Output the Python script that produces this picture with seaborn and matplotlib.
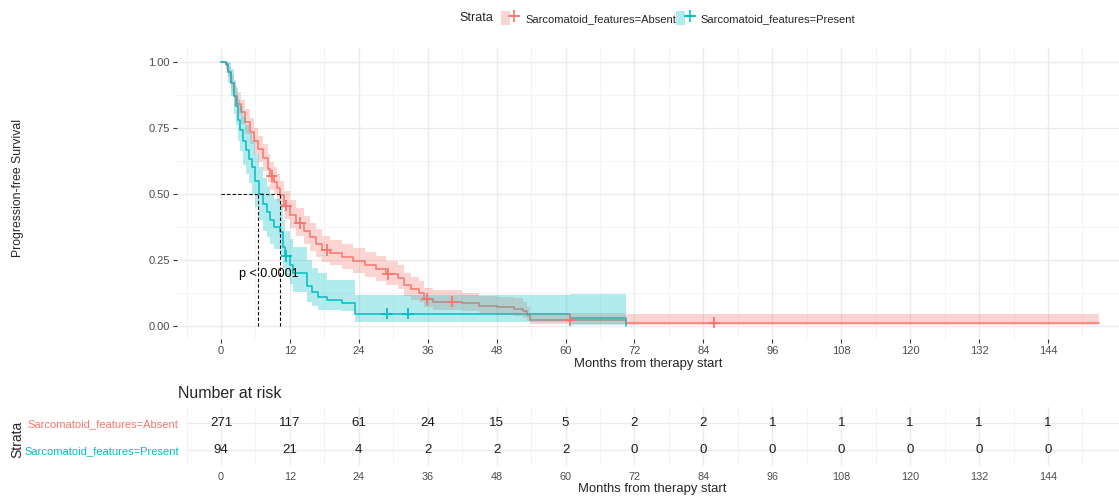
import numpy as np
import pandas as pd
import matplotlib
matplotlib.use("Agg")
import matplotlib.pyplot as plt
import seaborn as sns
from matplotlib.patches import Patch
from matplotlib.lines import Line2D
from matplotlib.legend_handler import HandlerTuple

# --- data ---
groups = ["Sarcomatoid_features=Absent", "Sarcomatoid_features=Present"]
colors = ["#F8766D", "#00BFC4"]

# Absent: step times (months), survival, lower / upper CI
abs_t = [0, 0.8, 1.3, 1.8, 2.2, 2.8, 3.5, 4.2, 5.0, 5.8, 6.5, 7.3, 8.2, 8.6, 9.3, 9.8, 10.3,
         11.0, 12.0, 13.0, 14.5, 15.5, 16.5, 17.5, 19.0, 21.0, 23.0, 25.0, 27.0, 28.8, 30.8,
         31.8, 33.0, 34.5, 35.3, 37.0, 42.0, 45.0, 48.0, 51.0, 52.5, 53.3, 53.8, 70.6, 152.8]
abs_s = [1.0, 0.985, 0.96, 0.92, 0.87, 0.84, 0.81, 0.77, 0.735, 0.70, 0.67, 0.635, 0.595, 0.566,
         0.545, 0.52, 0.497, 0.455, 0.42, 0.39, 0.36, 0.335, 0.31, 0.287, 0.275, 0.26, 0.245,
         0.23, 0.215, 0.197, 0.18, 0.155, 0.14, 0.125, 0.102, 0.092, 0.085, 0.075, 0.07, 0.065,
         0.055, 0.04, 0.023, 0.0125, 0.0125]
abs_lo = [1.0, 0.97, 0.94, 0.89, 0.83, 0.80, 0.765, 0.725, 0.69, 0.65, 0.62, 0.585, 0.545, 0.515,
          0.495, 0.47, 0.445, 0.405, 0.37, 0.34, 0.31, 0.285, 0.26, 0.243, 0.23, 0.215, 0.20,
          0.185, 0.17, 0.155, 0.14, 0.115, 0.10, 0.09, 0.07, 0.062, 0.055, 0.045, 0.04, 0.038,
          0.03, 0.018, 0.008, 0.003, 0.003]
abs_hi = [1.0, 1.0, 0.98, 0.95, 0.91, 0.885, 0.855, 0.82, 0.785, 0.75, 0.72, 0.69, 0.65, 0.62,
          0.60, 0.575, 0.55, 0.51, 0.475, 0.445, 0.415, 0.39, 0.365, 0.34, 0.325, 0.31, 0.295,
          0.28, 0.265, 0.245, 0.23, 0.20, 0.185, 0.17, 0.145, 0.135, 0.125, 0.115, 0.11, 0.105,
          0.09, 0.07, 0.05, 0.044, 0.044]
abs_cens = [8.8, 11.4, 13.8, 18.4, 29.1, 35.8, 40.2, 60.8, 85.8]

# Present
pre_t = [0, 0.9, 1.3, 1.8, 2.2, 2.6, 2.9, 3.3, 3.8, 4.3, 4.9, 5.4, 6.0, 6.6, 7.3, 8.0, 8.5, 9.2,
         10.2, 10.8, 11.2, 12.0, 12.6, 14.9, 15.8, 16.9, 18.5, 21.0, 23.3, 60.8, 70.5]
pre_s = [1.0, 0.99, 0.96, 0.92, 0.87, 0.83, 0.78, 0.74, 0.70, 0.665, 0.63, 0.60, 0.55, 0.50, 0.46,
         0.43, 0.40, 0.375, 0.355, 0.30, 0.265, 0.23, 0.20, 0.15, 0.13, 0.11, 0.099, 0.087, 0.047,
         0.03, 0.0]
pre_lo = [1.0, 0.97, 0.92, 0.87, 0.80, 0.76, 0.70, 0.66, 0.61, 0.575, 0.54, 0.50, 0.45, 0.40, 0.36,
          0.335, 0.31, 0.29, 0.27, 0.22, 0.19, 0.16, 0.13, 0.09, 0.075, 0.062, 0.06, 0.058, 0.016,
          0.004, 0.0]
pre_hi = [1.0, 1.0, 1.0, 0.97, 0.93, 0.90, 0.86, 0.83, 0.79, 0.76, 0.73, 0.70, 0.65, 0.60, 0.56,
          0.53, 0.50, 0.48, 0.46, 0.40, 0.36, 0.33, 0.30, 0.25, 0.22, 0.20, 0.175, 0.172, 0.117,
          0.12, 0.0]
pre_cens = [11.4, 28.9, 32.6]

risk_times = [0, 12, 24, 36, 48, 60, 72, 84, 96, 108, 120, 132, 144]
risk_abs = [271, 117, 61, 24, 15, 5, 2, 2, 1, 1, 1, 1, 1]
risk_pre = [94, 21, 4, 2, 2, 2, 0, 0, 0, 0, 0, 0, 0]

medians = [10.3, 6.5]
pval_text = "p < 0.0001"

# --- build tables ---
curves = pd.concat([
    pd.DataFrame({"time": abs_t, "surv": abs_s, "lo": abs_lo, "hi": abs_hi, "strata": groups[0]}),
    pd.DataFrame({"time": pre_t, "surv": pre_s, "lo": pre_lo, "hi": pre_hi, "strata": groups[1]}),
], ignore_index=True)


def at_time(t, s, tc):
    idx = np.searchsorted(np.array(t), np.array(tc), side="right") - 1
    return np.array(s)[idx]


cens = pd.concat([
    pd.DataFrame({"time": abs_cens, "surv": at_time(abs_t, abs_s, abs_cens), "strata": groups[0]}),
    pd.DataFrame({"time": pre_cens, "surv": at_time(pre_t, pre_s, pre_cens), "strata": groups[1]}),
], ignore_index=True)

sns.set_theme(style="whitegrid", rc={"grid.color": "#EBEBEB", "grid.linewidth": 1.0})
plt.rcParams["font.family"] = ["Liberation Sans", "DejaVu Sans"]

W, H = 1119, 501
fig = plt.figure(figsize=(W / 100, H / 100), dpi=100)

px_per_month = 5.743
x_zero_px = 221


def month_at(px):
    return (px - x_zero_px) / px_per_month


def fbox(l, t, r, b):
    return [l / W, 1 - b / H, (r - l) / W, (b - t) / H]


ax = fig.add_axes(fbox(177, 48.3, W, 339.2))
pal = dict(zip(groups, colors))

sns.lineplot(data=curves, x="time", y="surv", hue="strata", palette=pal, estimator=None,
             sort=False, drawstyle="steps-post", lw=1.1, legend=False, ax=ax, zorder=2)
# ribbons go over the lines, as in the reference
for g in groups:
    d = curves[curves["strata"] == g]
    ax.fill_between(d["time"], d["lo"], d["hi"], step="post", color=pal[g], alpha=0.3, lw=0,
                    zorder=3)
sns.scatterplot(data=cens, x="time", y="surv", hue="strata", palette=pal, marker="+",
                s=70, linewidth=1.3, legend=False, ax=ax, zorder=5)

# median lines
ax.plot([0, max(medians)], [0.5, 0.5], ls=(0, (3, 2)), color="black", lw=0.8, zorder=6)
for m in medians:
    ax.plot([m, m], [0, 0.5], ls=(0, (3, 2)), color="black", lw=0.8, zorder=6)
ax.text(8.4, 0.197, pval_text, ha="center", va="center", fontsize=9, color="black", zorder=7)

ax.set_xlim(month_at(177), month_at(W))
ax.set_ylim(-0.05, 1.05)
ax.set_xticks(risk_times)
ax.set_xticks(np.arange(-6, 160, 12), minor=True)
ax.set_yticks([0, 0.25, 0.5, 0.75, 1.0])
ax.set_yticks([0.125, 0.375, 0.625, 0.875], minor=True)
ax.set_yticklabels(["0.00", "0.25", "0.50", "0.75", "1.00"])
ax.grid(which="minor", color="#F2F2F2", lw=0.6)
ax.grid(which="major", color="#EBEBEB", lw=1.0)
ax.tick_params(axis="both", which="major", labelsize=8, labelcolor="#4D4D4D", length=3,
               width=0.8, color="#333333", pad=2, bottom=True, left=True)
ax.tick_params(which="minor", length=0)
for sp in ax.spines.values():
    sp.set_visible(False)
ax.set_xlabel("Months from therapy start", fontsize=9.4, labelpad=1)
ax.set_ylabel("")
fig.text(18 / W, 1 - 188 / H, "Progression-free Survival", rotation=90, ha="center",
         va="center", fontsize=8.8)

# legend
fig.text(493 / W, 1 - 18 / H, "Strata", ha="right", va="center", fontsize=9)
handles = []
for c in colors:
    handles.append((Patch(facecolor=c, alpha=0.3, edgecolor="none"),
                    Line2D([], [], color=c, lw=1.1, marker="+", markersize=8, mew=1.2)))
fig.legend(handles=handles, labels=groups, ncol=2, loc="center left",
           bbox_to_anchor=(501 / W, 1 - 18 / H), frameon=False, fontsize=8,
           handler_map={tuple: HandlerTuple(ndivide=None, pad=0)}, handlelength=1.6,
           handleheight=1.6, columnspacing=0.0, handletextpad=0.6, borderpad=0,
           borderaxespad=0)

# risk table (its panel starts a little to the right of the main one)
ax2 = fig.add_axes(fbox(185.7, 406.7, W, 466))
rows = [1, 2]
for r, vals in zip(rows, [risk_abs, risk_pre]):
    for t, v in zip(risk_times, vals):
        ax2.text(t, r, str(v), ha="center", va="center", fontsize=9.5, color="#1A1A1A")
ax2.set_xlim(month_at(185.7), month_at(W))
ax2.set_ylim(2.6, 0.4)
ax2.set_xticks(risk_times)
ax2.set_xticks(np.arange(-6, 160, 12), minor=True)
ax2.set_yticks(rows)
ax2.set_yticklabels(groups)
ax2.grid(which="minor", axis="x", color="#F2F2F2", lw=0.6)
ax2.grid(which="major", color="#EBEBEB", lw=1.0)
ax2.tick_params(axis="x", which="both", length=0, labelsize=7.8, labelcolor="#4D4D4D", pad=4)
ax2.tick_params(axis="y", which="both", length=0, labelsize=8, pad=5)
for lab, c in zip(ax2.get_yticklabels(), colors):
    lab.set_color(c)
for sp in ax2.spines.values():
    sp.set_visible(False)
ax2.set_xlabel("Months from therapy start", fontsize=9.4, labelpad=1)
fig.text(17 / W, 1 - 439 / H, "Strata", rotation=90, ha="center", va="center", fontsize=10)
fig.text(178 / W, 1 - 393 / H, "Number at risk", ha="left", va="center", fontsize=11.4)

fig.savefig("out.png", dpi=100)
